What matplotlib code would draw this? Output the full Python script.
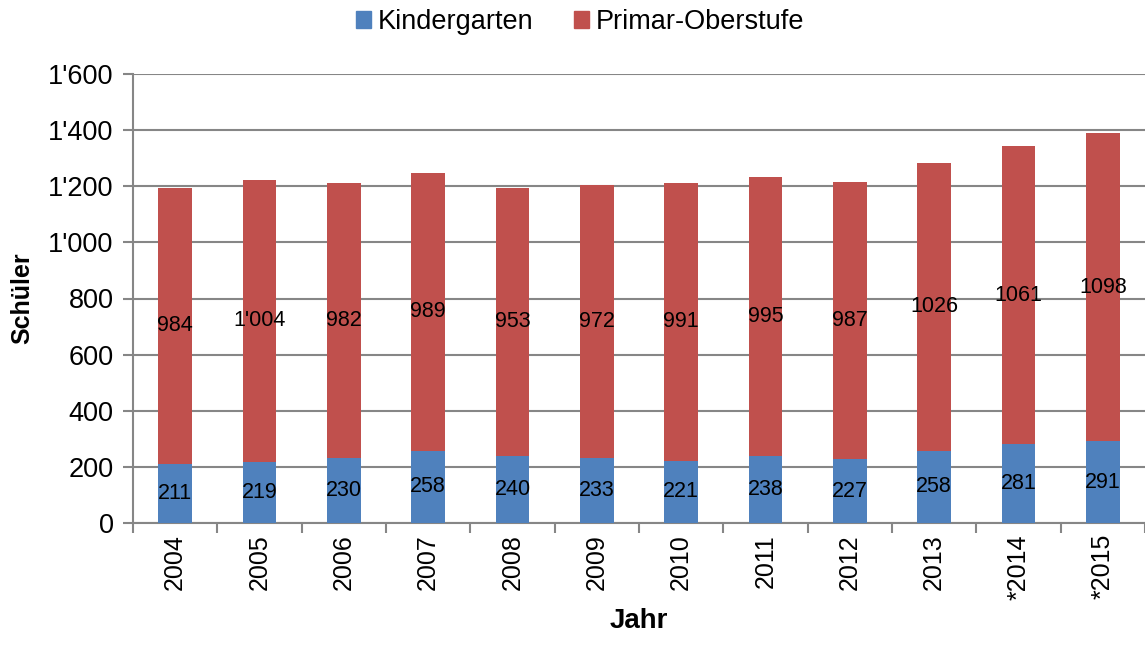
import matplotlib

matplotlib.use("Agg")

import matplotlib.pyplot as plt
import matplotlib.ticker as mticker
from matplotlib.patches import Patch

plt.rcParams["font.family"] = ["Liberation Sans", "DejaVu Sans"]

years = ["2004", "2005", "2006", "2007", "2008", "2009",
         "2010", "2011", "2012", "2013", "*2014", "*2015"]
kindergarten = [211, 219, 230, 258, 240, 233, 221, 238, 227, 258, 281, 291]
primar = [984, 1004, 982, 989, 953, 972, 991, 995, 987, 1026, 1061, 1098]
kg_labels = ["211", "219", "230", "258", "240", "233",
             "221", "238", "227", "258", "281", "291"]
pr_labels = ["984", "1'004", "982", "989", "953", "972",
             "991", "995", "987", "1026", "1061", "1098"]
y_ticks = [0, 200, 400, 600, 800, 1000, 1200, 1400, 1600]

BLUE = "#4F81BD"
RED = "#C0504D"
GRID = "#868686"

fig = plt.figure(figsize=(11.45, 6.46), dpi=100)
ax = fig.add_axes([133 / 1145, 1 - 523 / 646, 1 - 133 / 1145, (523 - 74) / 646])

x = list(range(len(years)))
ax.bar(x, kindergarten, width=0.4, color=BLUE, zorder=3)
ax.bar(x, primar, width=0.4, bottom=kindergarten, color=RED, zorder=3)

for i in x:
    ax.text(i, kindergarten[i] / 2, kg_labels[i], ha="center", va="center",
            fontsize=15.5, color="black", zorder=4)
    ax.text(i, kindergarten[i] + primar[i] / 2, pr_labels[i], ha="center",
            va="center", fontsize=15.5, color="black", zorder=4)

ax.set_xlim(-0.5, len(years) - 0.5)
ax.set_ylim(0, 1600)
ax.set_yticks(y_ticks)
ax.yaxis.set_major_formatter(
    mticker.FuncFormatter(lambda v, p: f"{int(v):,}".replace(",", "'"))
)
ax.set_xticks(x)
ax.set_xticklabels(years, rotation=90, fontsize=18)
ax.set_xticks([i - 0.5 for i in range(len(years) + 1)], minor=True)
ax.tick_params(axis="x", which="major", length=0, pad=8)
ax.tick_params(axis="x", which="minor", length=7, width=1.5, color=GRID)
ax.tick_params(axis="y", labelsize=19.5, length=7, width=1.5, color=GRID, pad=7)

ax.grid(axis="y", color=GRID, linewidth=1.5, zorder=0)
for side in ["top", "right"]:
    ax.spines[side].set_visible(False)
for side in ["left", "bottom"]:
    ax.spines[side].set_color(GRID)
    ax.spines[side].set_linewidth(1.5)

ax.set_ylabel("Schüler", fontsize=18, fontweight="bold", labelpad=10)
ax.set_xlabel("Jahr", fontsize=20, fontweight="bold", labelpad=6)

handles = [Patch(color=BLUE, label="Kindergarten"),
           Patch(color=RED, label="Primar-Oberstufe")]
fig.legend(handles=handles, loc="center", bbox_to_anchor=(580 / 1145, 1 - 22 / 646),
           ncol=2, frameon=False, fontsize=19.5, handlelength=0.55, handleheight=0.55,
           handletextpad=0.25, columnspacing=1.5)

fig.savefig("out.png", dpi=100)
